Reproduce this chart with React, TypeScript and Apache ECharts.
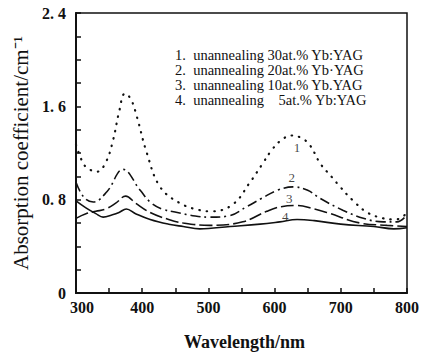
import React, { useEffect, useRef } from "react";
import * as echarts from "echarts";

const wl1 = [300, 311, 320, 332, 345, 356, 365, 374, 383, 392, 407, 427, 457, 487, 505, 537, 563, 582, 595, 610, 626, 640, 653, 669, 687, 699, 717, 740, 764, 779, 790, 800];
const ab1 = [1.27, 1.11, 1.06, 1.04, 1.12, 1.31, 1.55, 1.71, 1.66, 1.51, 1.2, 0.91, 0.77, 0.71, 0.70, 0.76, 0.95, 1.11, 1.22, 1.31, 1.35, 1.33, 1.27, 1.11, 0.99, 0.91, 0.8, 0.69, 0.64, 0.63, 0.64, 0.69];

const wl2 = [300, 312, 326, 347, 371, 397, 412, 430, 453, 480, 502, 530, 558, 580, 604, 628, 650, 669, 703, 734, 764, 785, 800];
const ab2 = [0.95, 0.82, 0.78, 0.87, 1.06, 0.88, 0.78, 0.72, 0.69, 0.66, 0.65, 0.66, 0.74, 0.81, 0.88, 0.91, 0.88, 0.81, 0.71, 0.64, 0.61, 0.61, 0.67];

const wl3 = [300, 315, 330, 345, 360, 375, 390, 412, 440, 462, 502, 552, 588, 610, 634, 660, 679, 729, 770, 800];
const ab3 = [0.64, 0.68, 0.7, 0.72, 0.77, 0.83, 0.77, 0.69, 0.63, 0.6, 0.58, 0.61, 0.7, 0.74, 0.75, 0.72, 0.69, 0.6, 0.58, 0.57];

const wl4 = [300, 315, 330, 341, 355, 365, 376, 390, 412, 440, 462, 487, 533, 578, 608, 634, 660, 700, 750, 780, 800];
const ab4 = [0.79, 0.73, 0.68, 0.65, 0.67, 0.69, 0.72, 0.68, 0.63, 0.59, 0.57, 0.55, 0.57, 0.59, 0.61, 0.63, 0.62, 0.59, 0.57, 0.55, 0.56];

const legendLines = [
  "1.  unannealing 30at.% Yb:YAG",
  "2.  unannealing 20at.% Yb·YAG",
  "3.  unannealing 10at.% Yb.YAG",
  "4.  unannealing    5at.% Yb:YAG",
];
const curveTags = ["1", "2", "3", "4"];
const tagPos: [number, number][] = [
  [634, 1.25],
  [626, 0.99],
  [622, 0.81],
  [616, 0.66],
];

const pairs = (x: number[], y: number[]) => x.map((v, i) => [v, y[i]]);

export default function App() {
  const ref = useRef<HTMLDivElement>(null);
  useEffect(() => {
    const chart = echarts.init(ref.current!, null, { renderer: "svg" });
    const serif = "Liberation Serif";
    const base = { type: "line", smooth: 0.4, showSymbol: false, symbol: "none", color: "#111" };
    chart.setOption({
      animation: false,
      backgroundColor: "#fff",
      grid: { left: 76, right: 16, top: 13, bottom: 63, show: true, borderColor: "#111", borderWidth: 1.5 },
      xAxis: {
        type: "value",
        min: 300,
        max: 800,
        interval: 50,
        name: "Wavelength/nm",
        nameLocation: "middle",
        nameGap: 40,
        nameTextStyle: { fontFamily: serif, fontWeight: "bold", fontSize: 18, color: "#111", padding: [0, 0, 0, 6] },
        axisLine: { lineStyle: { color: "#111", width: 2 } },
        axisTick: { inside: true, length: 5, lineStyle: { color: "#111", width: 1.5 } },
        axisLabel: {
          fontFamily: serif,
          fontWeight: "bold",
          fontSize: 16,
          color: "#111",
          margin: 6,
          formatter: (v: number) => (v === 300 ? "{s|300}" : v % 100 === 0 ? String(v) : ""),
          rich: {
            s: { fontFamily: serif, fontWeight: "bold", fontSize: 16, color: "#111", padding: [0, 0, 0, 12] },
          },
        },
        splitLine: { show: false },
      },
      yAxis: {
        type: "value",
        min: 0,
        max: 2.4,
        interval: 0.2,
        name: "Absorption coefficient/cm⁻¹",
        nameLocation: "middle",
        nameGap: 41,
        nameTextStyle: { fontFamily: serif, fontSize: 21, color: "#111" },
        axisLine: { lineStyle: { color: "#111", width: 2 } },
        axisTick: { inside: true, length: 5, lineStyle: { color: "#111", width: 1.5 } },
        axisLabel: {
          fontFamily: serif,
          fontWeight: "bold",
          fontSize: 16,
          color: "#111",
          margin: 10,
          formatter: (v: number) => {
            const k = Math.round(v * 10);
            if (k === 0) return "0";
            if (k % 8 === 0) return (k / 10).toFixed(1).replace(".", ". ");
            return "";
          },
        },
        splitLine: { show: false },
      },
      series: [
        { ...base, name: "1", data: pairs(wl1, ab1), lineStyle: { color: "#111", width: 2.2, type: [0.5, 7], cap: "round" } },
        { ...base, name: "2", data: pairs(wl2, ab2), lineStyle: { color: "#111", width: 1.6, type: [10, 4, 2, 4] } },
        { ...base, name: "3", data: pairs(wl3, ab3), lineStyle: { color: "#111", width: 1.6, type: [13, 4] } },
        { ...base, name: "4", data: pairs(wl4, ab4), lineStyle: { color: "#111", width: 1.6 } },
        {
          type: "scatter",
          symbolSize: 0,
          data: tagPos.map((p, i) => ({ value: p, name: curveTags[i] })),
          label: {
            show: true,
            position: "inside",
            formatter: (p: any) => p.name,
            fontFamily: serif,
            fontSize: 13,
            color: "#111",
          },
        },
      ],
      graphic: legendLines.map((t, i) => ({
        type: "text",
        left: 175,
        top: 47 + i * 15,
        style: { text: t, font: `14.5px "${serif}"`, fill: "#111" },
      })),
    });
    return () => chart.dispose();
  }, []);
  return <div ref={ref} style={{ width: 423, height: 356, position: "absolute", left: 0, top: 0 }} />;
}
